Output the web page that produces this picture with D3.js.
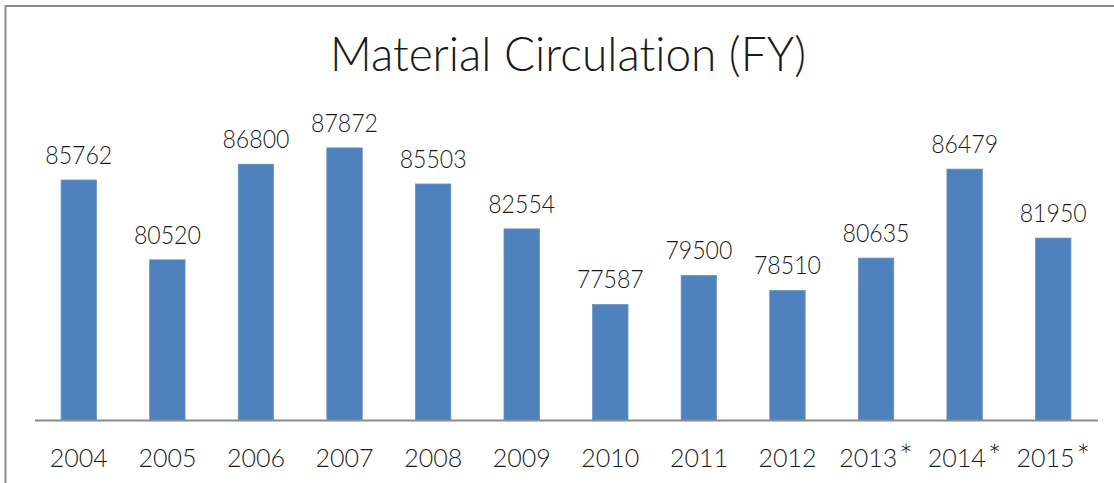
<!DOCTYPE html>
<html lang="en">
<head>
<meta charset="UTF-8">
<title>Material Circulation (FY)</title>
<script src="https://d3js.org/d3.v7.min.js"></script>
<style>
  body { margin: 0; background: #fff; }
  text { font-family: Lato, "Open Sans", sans-serif; fill: #1a1a1a; font-variant-ligatures: none; }
</style>
</head>
<body>
<svg id="chart" width="1114" height="483"></svg>
<script>
// chart data
var years = ["2004", "2005", "2006", "2007", "2008", "2009", "2010", "2011", "2012", "2013*", "2014*", "2015*"];
var circulation = [85762, 80520, 86800, 87872, 85503, 82554, 77587, 79500, 78510, 80635, 86479, 81950];
var yDomain = [70000, 90000];

var svg = d3.select("#chart");

// outer frame (only top and left edges show in the window)
svg.append("rect")
   .attr("x", 5.5).attr("y", 6)
   .attr("width", 1200).attr("height", 600)
   .style("fill", "none")
   .style("stroke", "#8c8c8c")
   .style("stroke-width", 2);

// title
svg.append("text")
   .attr("x", 568).attr("y", 71)
   .attr("text-anchor", "middle")
   .attr("font-size", 48)
   .attr("font-weight", 300)
   .attr("textLength", 476)
   .attr("lengthAdjust", "spacingAndGlyphs")
   .text("Material Circulation (FY)");

var x = d3.scaleBand()
          .domain(years)
          .range([34.5, 1097.5])
          .paddingInner(0.6)
          .paddingOuter(0.3);

var y = d3.scaleLinear()
          .domain(yDomain)
          .range([420, 115.5]);

var data = years.map(function(d, i) { return { year: d, value: circulation[i] }; });

// bars
svg.selectAll("rect.bar")
   .data(data)
   .enter().append("rect")
   .attr("class", "bar")
   .attr("x", function(d) { return x(d.year); })
   .attr("y", function(d) { return y(d.value); })
   .attr("width", x.bandwidth())
   .attr("height", function(d) { return y(yDomain[0]) - y(d.value); })
   .style("fill", "#4f81bd")
   .style("stroke", "#6a94c8")
   .style("stroke-width", 0.8);

// value labels
svg.selectAll("text.val")
   .data(data)
   .enter().append("text")
   .attr("class", "val")
   .attr("x", function(d) { return x(d.year) + x.bandwidth() / 2; })
   .attr("y", function(d) { return y(d.value) - 16; })
   .attr("text-anchor", "middle")
   .attr("font-size", 25)
   .attr("font-weight", 300)
   .attr("textLength", 67)
   .attr("lengthAdjust", "spacingAndGlyphs")
   .text(function(d) { return d.value; });

// category axis
var xAxis = d3.axisBottom(x).tickSize(0).tickPadding(0);
var gx = svg.append("g")
   .attr("transform", "translate(0,420)")
   .call(xAxis);
gx.select(".domain").style("stroke", "#8a8a8a").style("stroke-width", 2);
gx.selectAll(".tick text")
   .attr("dy", 0)
   .attr("y", 47)
   .attr("font-size", 25)
   .attr("font-weight", 300)
   .style("font-family", "Lato, sans-serif")
   .style("fill", "#1a1a1a");
// the star in "2013*" etc. is bigger in the original
gx.selectAll(".tick text").each(function(d) {
  if (d.slice(-1) === "*") {
    var t = d3.select(this).text(d.slice(0, -1));
    t.append("tspan").attr("font-size", 32).attr("dx", 2).text("*");
  }
});
</script>
</body>
</html>
